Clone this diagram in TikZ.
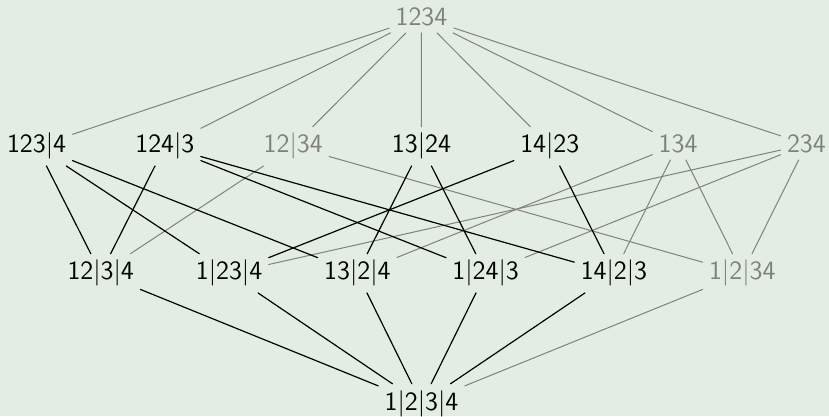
\documentclass[tikz,border=0pt]{standalone}
\definecolor{bgcol}{RGB}{228,237,228}
\definecolor{dimtxt}{RGB}{128,128,128}
\begin{document}
\begin{tikzpicture}[x=64.15pt,y=64pt,line cap=round,line join=round,
  lab/.style={font=\sffamily\fontsize{13.2}{16}\selectfont,inner sep=3pt,anchor=base},
  dim/.style={lab,text=dimtxt},
  blk/.style={line width=0.6pt,black},
  gry/.style={line width=0.5pt,dimtxt}]
  \fill[bgcol] (-3.285,-0.047) rectangle (3.176,3.203);
  \useasboundingbox (-3.285,-0.047) rectangle (3.176,3.203);
  % top and bottom
  \node[dim] (p1234) at (0,3) {1234};
  \node[lab] (p1-2-3-4) at (0,0) {1|2|3|4};
  % two blocks
  \node[lab] (p123-4) at (-3,2.008) {123|4};
  \node[lab] (p124-3) at (-2,2.008) {124|3};
  \node[dim] (p12-34) at (-1,2.008) {12|34};
  \node[lab] (p13-24) at (0,2.008) {13|24};
  \node[lab] (p14-23) at (1,2.008) {14|23};
  \node[dim] (p134) at (2,2.008) {134};
  \node[dim] (p234) at (3,2.008) {234};
  % three blocks
  \node[lab] (p12-3-4) at (-2.5,1.016) {12|3|4};
  \node[lab] (p1-23-4) at (-1.5,1.016) {1|23|4};
  \node[lab] (p13-2-4) at (-0.5,1.016) {13|2|4};
  \node[lab] (p1-24-3) at (0.5,1.016) {1|24|3};
  \node[lab] (p14-2-3) at (1.5,1.016) {14|2|3};
  \node[dim] (p1-2-34) at (2.5,1.016) {1|2|34};
  % grey edges
  \draw[gry] (p1234) -- (p123-4) (p1234) -- (p124-3) (p1234) -- (p12-34)
    (p1234) -- (p13-24) (p1234) -- (p14-23) (p1234) -- (p134) (p1234) -- (p234);
  \draw[gry] (p12-34) -- (p12-3-4) (p12-34) -- (p1-2-34);
  \draw[gry] (p134) -- (p13-2-4) (p134) -- (p14-2-3) (p134) -- (p1-2-34);
  \draw[gry] (p234) -- (p1-23-4) (p234) -- (p1-24-3) (p234) -- (p1-2-34);
  \draw[gry] (p1-2-34) -- (p1-2-3-4);
  % black edges
  \draw[blk] (p123-4) -- (p12-3-4) (p123-4) -- (p1-23-4) (p123-4) -- (p13-2-4);
  \draw[blk] (p124-3) -- (p12-3-4) (p124-3) -- (p1-24-3) (p124-3) -- (p14-2-3);
  \draw[blk] (p13-24) -- (p13-2-4) (p13-24) -- (p1-24-3);
  \draw[blk] (p14-23) -- (p1-23-4) (p14-23) -- (p14-2-3);
  \draw[blk] (p12-3-4) -- (p1-2-3-4) (p1-23-4) -- (p1-2-3-4) (p13-2-4) -- (p1-2-3-4)
    (p1-24-3) -- (p1-2-3-4) (p14-2-3) -- (p1-2-3-4);
\end{tikzpicture}
\end{document}
